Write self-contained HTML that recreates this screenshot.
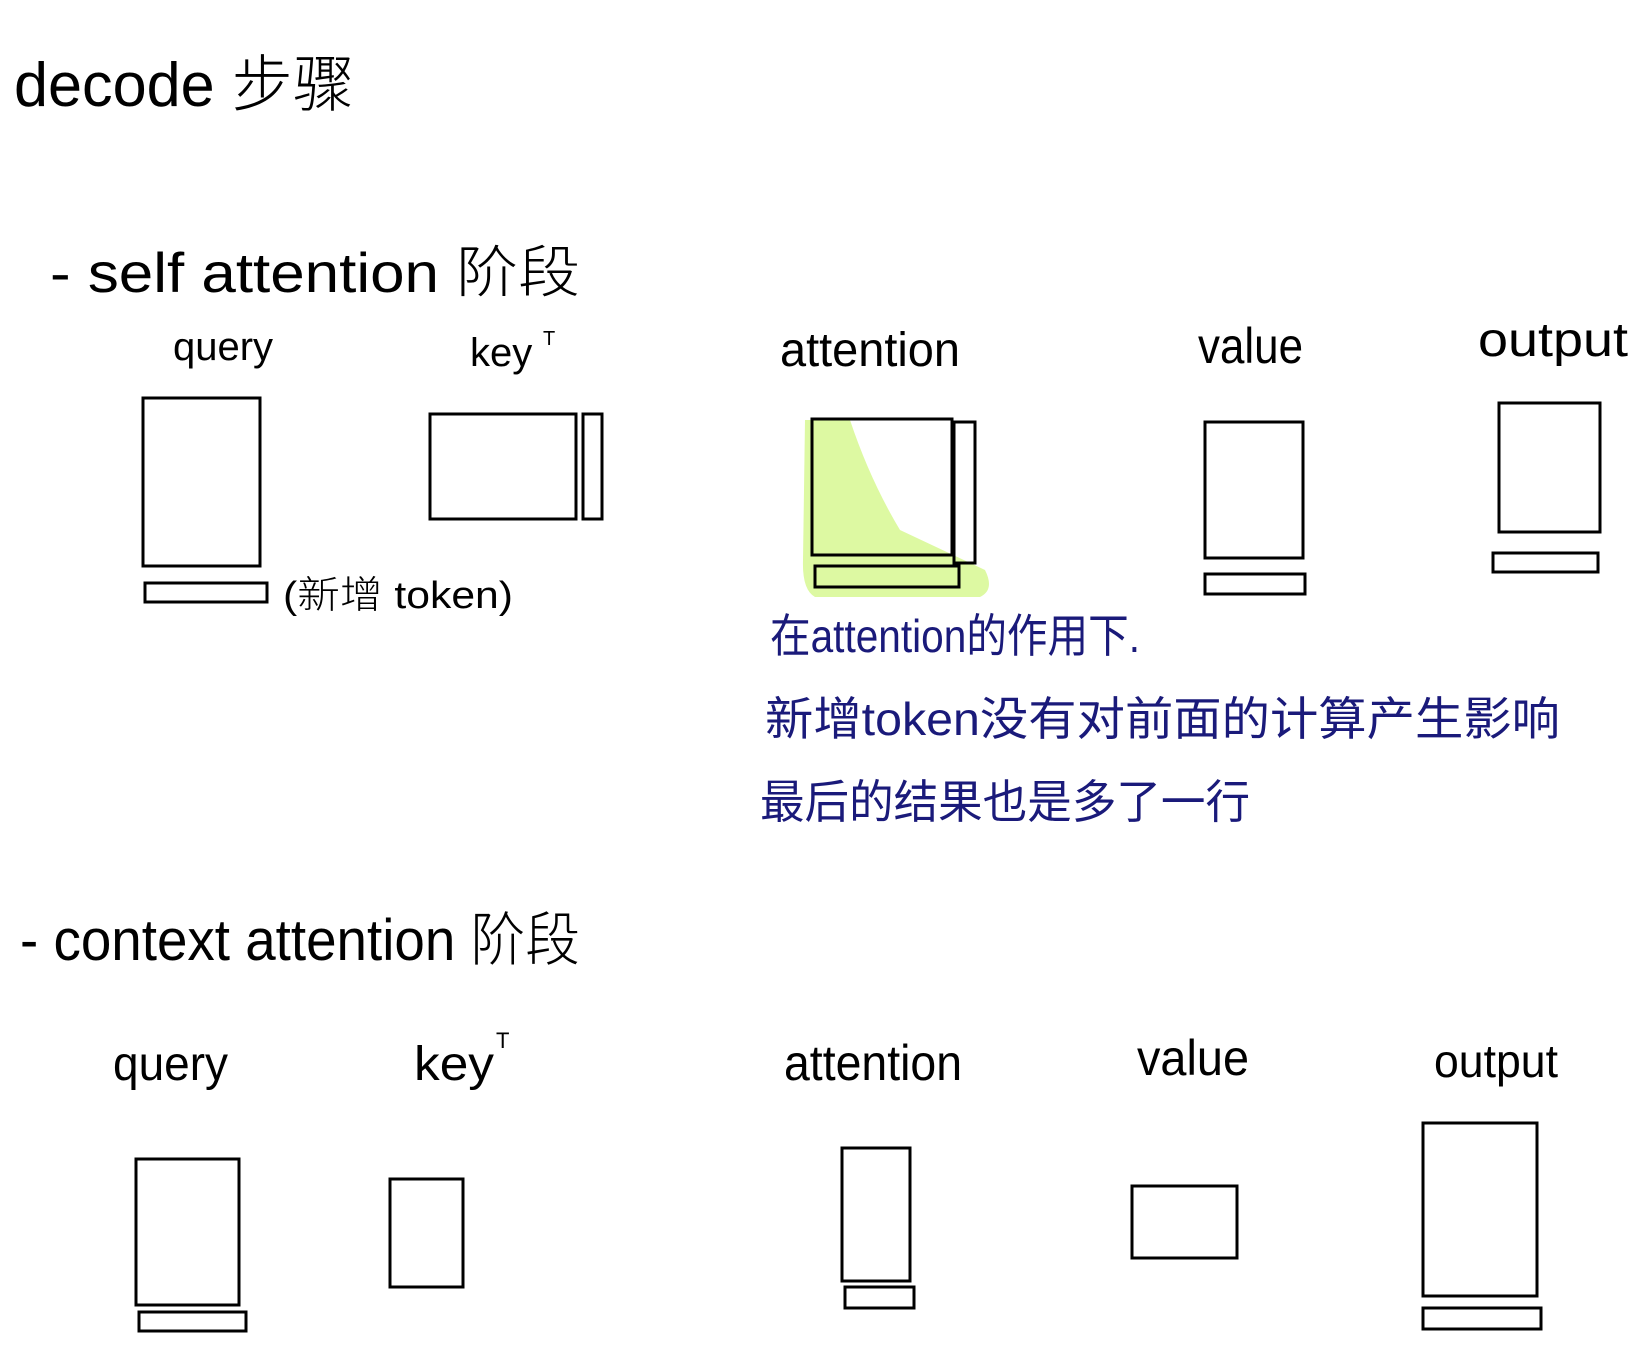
<!DOCTYPE html>
<html><head><meta charset="utf-8"><style>
html,body{margin:0;padding:0;background:#fff;}
body{width:1643px;height:1362px;position:relative;overflow:hidden;font-family:"Liberation Sans","Noto Sans CJK SC",sans-serif;}
svg{position:absolute;left:0;top:0;}
text{font-family:"Liberation Sans","Noto Sans CJK SC",sans-serif;}
</style></head><body>
<svg width="1643" height="1362" viewBox="0 0 1643 1362">
<g fill="#000" font-weight="300">
<text x="14" y="106" font-size="62" textLength="340" lengthAdjust="spacingAndGlyphs">decode 步骤</text>
<text x="50" y="292" font-size="56" textLength="530" lengthAdjust="spacingAndGlyphs">- self  attention 阶段</text>
<text x="173" y="360" font-size="40">query</text>
<text x="470" y="366" font-size="40">key</text><text x="543" y="345" font-size="20">T</text>
<text x="780" y="366" font-size="48" textLength="180" lengthAdjust="spacingAndGlyphs">attention</text>
<text x="1198" y="363" font-size="50" textLength="105" lengthAdjust="spacingAndGlyphs">value</text>
<text x="1478" y="356" font-size="48" textLength="150" lengthAdjust="spacingAndGlyphs">output</text>
<text x="283" y="608" font-size="38" textLength="230" lengthAdjust="spacingAndGlyphs">(新增 token)</text>
<text x="20" y="960" font-size="58" textLength="560" lengthAdjust="spacingAndGlyphs">- context  attention 阶段</text>
<text x="113" y="1080" font-size="48" textLength="115" lengthAdjust="spacingAndGlyphs">query</text>
<text x="414" y="1080" font-size="48" textLength="80" lengthAdjust="spacingAndGlyphs">key</text><text x="496" y="1048" font-size="22">T</text>
<text x="784" y="1080" font-size="50" textLength="178" lengthAdjust="spacingAndGlyphs">attention</text>
<text x="1137" y="1075" font-size="50" textLength="112" lengthAdjust="spacingAndGlyphs">value</text>
<text x="1434" y="1077" font-size="46" textLength="124" lengthAdjust="spacingAndGlyphs">output</text>
</g>
<g fill="#1a1a7a" font-size="46">
<text x="770" y="652" textLength="370" lengthAdjust="spacingAndGlyphs">在attention的作用下.</text>
<text x="765" y="735" textLength="795" lengthAdjust="spacingAndGlyphs">新增token没有对前面的计算产生影响</text>
<text x="760" y="818" textLength="490" lengthAdjust="spacingAndGlyphs">最后的结果也是多了一行</text>
</g>
<path d="M805 420 L850 420 Q870 480 900 530 L985 570 Q995 590 980 597 L815 597 Q802 590 803 560 Z" fill="#ddf9a2"/>
<g fill="none" stroke="#000" stroke-width="3">
<rect x="143" y="398" width="117" height="168"/>
<rect x="145" y="583" width="122" height="19"/>
<rect x="430" y="414" width="146" height="105"/>
<rect x="583" y="414" width="19" height="105"/>
<rect x="812" y="419" width="140" height="136"/>
<rect x="954" y="422" width="21" height="141"/>
<rect x="815" y="566" width="144" height="21"/>
<rect x="1205" y="422" width="98" height="136"/>
<rect x="1205" y="574" width="100" height="20"/>
<rect x="1499" y="403" width="101" height="129"/>
<rect x="1493" y="553" width="105" height="19"/>
<rect x="136" y="1159" width="103" height="146"/>
<rect x="139" y="1312" width="107" height="19"/>
<rect x="390" y="1179" width="73" height="108"/>
<rect x="842" y="1148" width="68" height="133"/>
<rect x="845" y="1287" width="69" height="21"/>
<rect x="1132" y="1186" width="105" height="72"/>
<rect x="1423" y="1123" width="114" height="173"/>
<rect x="1423" y="1308" width="118" height="21"/>
</g>
</svg>
</body></html>
